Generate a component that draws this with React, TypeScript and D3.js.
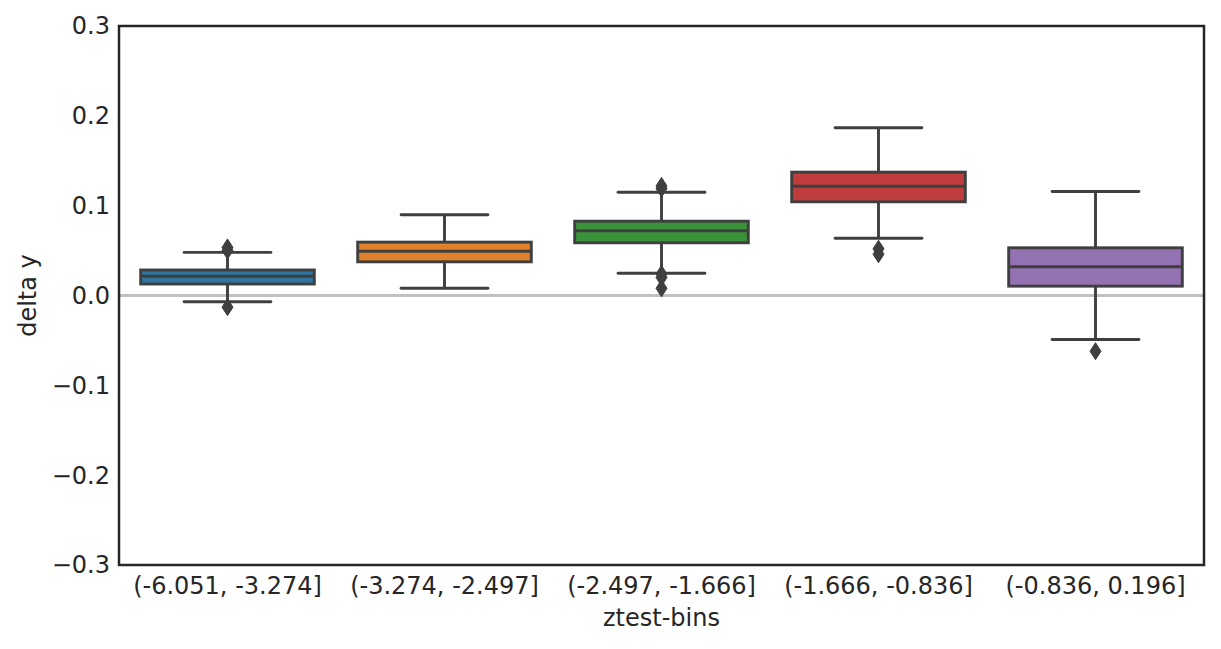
import { useEffect, useRef } from 'react'
import * as d3 from 'd3'

// Bins on the x axis
const BINS = ['(-6.051, -3.274]', '(-3.274, -2.497]', '(-2.497, -1.666]', '(-1.666, -0.836]', '(-0.836, 0.196]']

// Box stats, one entry per bin
const Q1 = [0.0128, 0.0375, 0.0587, 0.1043, 0.0104]
const MEDIAN = [0.0215, 0.0493, 0.072, 0.1216, 0.032]
const Q3 = [0.0284, 0.0594, 0.0827, 0.1373, 0.0531]
const WHISKER_LO = [-0.007, 0.0081, 0.0248, 0.0638, -0.049]
const WHISKER_HI = [0.048, 0.0899, 0.115, 0.1867, 0.1158]
const OUTLIERS = [
  [0.0535, 0.05, -0.013],
  [],
  [0.122, 0.119, 0.024, 0.02, 0.008],
  [0.052, 0.046],
  [-0.062],
]

const Y_TICKS = [-0.3, -0.2, -0.1, 0.0, 0.1, 0.2, 0.3]

// seaborn default palette, desaturated
const COLORS = ['#3274a1', '#e1812c', '#3a923a', '#c03d3e', '#9372b2']
const LINE = '#3f3f3f'
const TEXT = '#262626'

const App = () => {
  const svgRef = useRef<SVGSVGElement>(null)

  useEffect(() => {
    if (!svgRef.current) return
    const svg = d3.select(svgRef.current)
    svg.selectAll('*').remove()

    const width = 1221
    const height = 649
    const margin = { top: 26, right: 17, bottom: 84, left: 119 }
    const innerW = width - margin.left - margin.right
    const innerH = height - margin.top - margin.bottom
    const font = 'DejaVu Sans, sans-serif'
    const fontSize = 24

    const x = d3.scaleBand().domain(BINS).range([0, innerW]).paddingInner(0).paddingOuter(0)
    const y = d3.scaleLinear().domain([-0.3, 0.3]).range([innerH, 0])

    const g = svg.append('g').attr('transform', `translate(${margin.left}, ${margin.top})`)

    // zero reference line
    g.append('line')
      .attr('x1', 0)
      .attr('x2', innerW)
      .attr('y1', y(0))
      .attr('y2', y(0))
      .attr('stroke', '#c0c0c0')
      .attr('stroke-width', 2.8)

    const boxW = x.bandwidth() * 0.8
    const capW = boxW / 2
    const lw = 2.9

    BINS.forEach((bin, i) => {
      const cx = (x(bin) || 0) + x.bandwidth() / 2
      const box = g.append('g')

      // whiskers
      box.append('line')
        .attr('x1', cx).attr('x2', cx)
        .attr('y1', y(Q3[i])).attr('y2', y(WHISKER_HI[i]))
        .attr('stroke', LINE).attr('stroke-width', lw)
      box.append('line')
        .attr('x1', cx).attr('x2', cx)
        .attr('y1', y(Q1[i])).attr('y2', y(WHISKER_LO[i]))
        .attr('stroke', LINE).attr('stroke-width', lw)

      // caps
      ;[WHISKER_HI[i], WHISKER_LO[i]].forEach(v => {
        box.append('line')
          .attr('x1', cx - capW / 2).attr('x2', cx + capW / 2)
          .attr('y1', y(v)).attr('y2', y(v))
          .attr('stroke', LINE).attr('stroke-width', lw)
          .attr('stroke-linecap', 'round')
      })

      // box
      box.append('rect')
        .attr('x', cx - boxW / 2)
        .attr('y', y(Q3[i]))
        .attr('width', boxW)
        .attr('height', y(Q1[i]) - y(Q3[i]))
        .attr('fill', COLORS[i])
        .attr('stroke', LINE)
        .attr('stroke-width', lw)

      // median
      box.append('line')
        .attr('x1', cx - boxW / 2).attr('x2', cx + boxW / 2)
        .attr('y1', y(MEDIAN[i])).attr('y2', y(MEDIAN[i]))
        .attr('stroke', LINE).attr('stroke-width', lw)

      // outliers as thin diamonds
      OUTLIERS[i].forEach(v => {
        const py = y(v)
        box.append('path')
          .attr('d', `M${cx},${py - 8.5} L${cx + 5.5},${py} L${cx},${py + 8.5} L${cx - 5.5},${py} Z`)
          .attr('fill', LINE)
          .attr('stroke', LINE)
          .attr('stroke-width', 1)
      })
    })

    // frame
    g.append('rect')
      .attr('x', 0).attr('y', 0)
      .attr('width', innerW).attr('height', innerH)
      .attr('fill', 'none')
      .attr('stroke', TEXT)
      .attr('stroke-width', 2.5)

    // y tick labels
    g.selectAll('.ytick')
      .data(Y_TICKS)
      .enter()
      .append('text')
      .attr('x', -9)
      .attr('y', d => y(d))
      .attr('dy', '0.35em')
      .attr('text-anchor', 'end')
      .attr('font-family', font)
      .attr('font-size', fontSize)
      .attr('fill', TEXT)
      .text(d => d3.format('.1f')(d).replace('-', '\u2212'))

    // x tick labels
    g.selectAll('.xtick')
      .data(BINS)
      .enter()
      .append('text')
      .attr('x', d => (x(d) || 0) + x.bandwidth() / 2)
      .attr('y', innerH + 29)
      .attr('text-anchor', 'middle')
      .attr('font-family', font)
      .attr('font-size', fontSize)
      .attr('fill', TEXT)
      .text(d => d)

    // axis labels
    g.append('text')
      .attr('x', innerW / 2)
      .attr('y', innerH + 61)
      .attr('text-anchor', 'middle')
      .attr('font-family', font)
      .attr('font-size', fontSize)
      .attr('fill', TEXT)
      .text('ztest-bins')

    g.append('text')
      .attr('transform', `translate(${-83}, ${innerH / 2}) rotate(-90)`)
      .attr('text-anchor', 'middle')
      .attr('font-family', font)
      .attr('font-size', fontSize)
      .attr('fill', TEXT)
      .text('delta y')
  }, [])

  return (
    <div style={{ position: 'absolute', left: 0, top: 0, width: 1221, height: 649, background: '#fff' }}>
      <svg ref={svgRef} width={1221} height={649}></svg>
    </div>
  )
}

export default App
